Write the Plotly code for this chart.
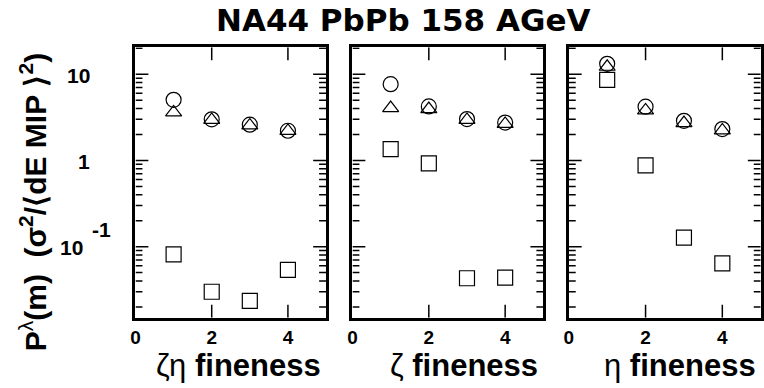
import math
import plotly.graph_objects as go

# x positions (fineness level)
fineness = [1, 2, 3, 4]

# ζη fineness panel
zeta_eta_circle = [5.05, 3.0, 2.6, 2.21]
zeta_eta_triangle = [3.6, 2.95, 2.55, 2.2]
zeta_eta_square = [0.0815, 0.030, 0.0235, 0.0537]

# ζ fineness panel
zeta_circle = [7.66, 4.23, 3.02, 2.75]
zeta_triangle = [4.05, 3.94, 2.95, 2.65]
zeta_square = [1.35, 0.923, 0.043, 0.0438]

# η fineness panel
eta_circle = [13.2, 4.2, 2.88, 2.31]
eta_triangle = [12.2, 3.8, 2.71, 2.23]
eta_square = [8.6, 0.875, 0.127, 0.064]

panel_titles = ["ζη", "ζ", "η"]
x_tick_vals = [0, 2, 4]
x_tick_text = ["0", "2", "4"]
y_major = [0.1, 1, 10]
y_minor = [m * 10 ** e for e in (-2, -1, 0, 1) for m in range(2, 10)]

W, H = 764, 388
X_DOMAINS = [(131.7, 324.0), (350.7, 543.3), (569.0, 762.7)]
Y_TOP, Y_BOT = 47.3, 317.7
X_RANGE = [0, 5]
Y_RANGE = [-1.824, 1.312]
MAJOR_LEN, MINOR_LEN = 13, 7  # tick lengths in px

fig = go.Figure()

panels = [
    (zeta_eta_circle, zeta_eta_triangle, zeta_eta_square),
    (zeta_circle, zeta_triangle, zeta_square),
    (eta_circle, eta_triangle, eta_square),
]

marker_styles = [
    dict(symbol="circle-open", size=15),
    dict(symbol="triangle-up-open", size=14),
    dict(symbol="square-open", size=15),
]


def frame_ticks(px_w):
    """Inside tick segments on all four edges of one panel, in data units."""
    x_per_px = (X_RANGE[1] - X_RANGE[0]) / px_w
    dec_per_px = (Y_RANGE[1] - Y_RANGE[0]) / (Y_BOT - Y_TOP)
    lo, hi = Y_RANGE
    xs, ys = [], []
    for vals, length in ((y_major, MAJOR_LEN), (y_minor, MINOR_LEN)):
        dx = length * x_per_px
        for v in vals:
            if not (lo < math.log10(v) < hi):
                continue
            xs += [X_RANGE[0], X_RANGE[0] + dx, None,
                   X_RANGE[1], X_RANGE[1] - dx, None]
            ys += [v, v, None, v, v, None]
    dy = MAJOR_LEN * dec_per_px
    for t in x_tick_vals[1:]:
        xs += [t, t, None, t, t, None]
        ys += [10 ** lo, 10 ** (lo + dy), None, 10 ** hi, 10 ** (hi - dy), None]
    return xs, ys


for i, (series, (x0, x1)) in enumerate(zip(panels, X_DOMAINS)):
    sfx = "" if i == 0 else str(i + 1)
    tx, ty = frame_ticks(x1 - x0)
    fig.add_trace(go.Scatter(
        x=tx, y=ty, mode="lines", line=dict(color="black", width=1.5),
        xaxis="x" + sfx, yaxis="y" + sfx, showlegend=False, hoverinfo="skip",
    ))
    for vals, ms in zip(series, marker_styles):
        fig.add_trace(go.Scatter(
            x=fineness, y=vals, mode="markers",
            marker=dict(symbol=ms["symbol"], size=ms["size"], color="black",
                        line=dict(color="black", width=1.2)),
            xaxis="x" + sfx, yaxis="y" + sfx, showlegend=False,
            hoverinfo="skip",
        ))

axis_common = dict(
    showline=True, linewidth=3, linecolor="black", mirror=True,
    ticks="", showgrid=False, zeroline=False,
)

layout = dict(
    width=W, height=H, autosize=False,
    margin=dict(l=0, r=0, t=0, b=0),
    paper_bgcolor="white", plot_bgcolor="white",
    showlegend=False,
)

for i, (x0, x1) in enumerate(X_DOMAINS):
    sfx = "" if i == 0 else str(i + 1)
    layout["xaxis" + sfx] = dict(
        axis_common,
        domain=[x0 / W, x1 / W], range=X_RANGE,
        anchor="y" + sfx,
        tickmode="array", tickvals=x_tick_vals, ticktext=x_tick_text,
        tickfont=dict(family="Liberation Sans", size=19, color="black",
                      weight="bold"),
    )
    layout["yaxis" + sfx] = dict(
        axis_common,
        domain=[1 - Y_BOT / H, 1 - Y_TOP / H], type="log", range=Y_RANGE,
        anchor="x" + sfx,
        tickmode="array", tickvals=y_major, showticklabels=False,
    )

fig.update_layout(**layout)

annotations = []

# y tick labels on the first panel
label_font = dict(family="Liberation Sans", size=21, color="black",
                  weight="bold")
for val, txt, xr in [(10, "10", 88.3), (1, "1", 87.3), (0.1, "10", 80.5)]:
    annotations.append(dict(
        x=xr / W, xref="paper", y=math.log10(val), yref="y", yanchor="middle",
        xanchor="right", text=txt, showarrow=False, font=label_font,
        yshift=-1,
    ))
annotations.append(dict(
    x=86 / W, xref="paper", y=math.log10(0.1), yref="y", yanchor="middle",
    xanchor="left", text="-1", showarrow=False, font=label_font, yshift=17,
))

# x axis titles, right aligned to each panel
title_font = dict(family="Liberation Sans", size=31, color="black",
                  weight="bold")
for greek, (x0, x1) in zip(panel_titles, X_DOMAINS):
    annotations.append(dict(
        x=(x1 - 3) / W, xref="paper", y=1 - 365.5 / H, yref="paper",
        xanchor="right", yanchor="middle", showarrow=False,
        text=f"<span style='font-weight:normal'>{greek}</span> fineness",
        font=title_font,
    ))

# y axis title
annotations.append(dict(
    x=28 / W, xref="paper", y=1 - 202.5 / H, yref="paper",
    xanchor="center", yanchor="middle", textangle=-90, showarrow=False,
    text=("P<sup><span style='font-weight:normal'>λ</span></sup>(m)&nbsp;&nbsp;"
          "(σ<sup>2</sup>/⟨dE MIP&nbsp;⟩<sup>2</sup>)"),
    font=dict(family="Liberation Sans", size=30, color="black",
              weight="bold"),
))

# main title
annotations.append(dict(
    x=401.5 / W, xref="paper", y=1, yref="paper",
    xanchor="center", yanchor="top", showarrow=False,
    text="NA44 PbPb 158 AGeV",
    font=dict(family="DejaVu Sans", size=31, color="black", weight="bold"),
))

fig.update_layout(annotations=annotations)

fig.write_html("out.html")
